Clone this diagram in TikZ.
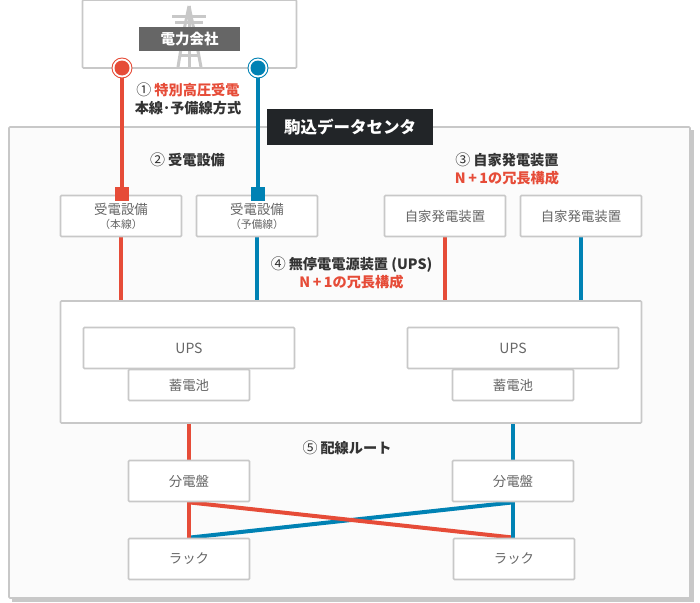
\documentclass[tikz,border=0pt]{standalone}
\usepackage{fontspec}
\setmainfont{Noto Sans CJK JP}
\definecolor{redline}{HTML}{E64C38}
\definecolor{blueline}{HTML}{0082B4}
\definecolor{boxgray}{HTML}{C8C8C8}
\definecolor{textgray}{HTML}{666666}
\definecolor{textdark}{HTML}{333333}
\definecolor{tagdark}{HTML}{222528}
\pgfdeclarelayer{back}
\pgfdeclarelayer{wire}
\pgfsetlayers{back,wire,main}
\newcommand{\cnum}[1]{{\mdseries\fontsize{15}{16}\selectfont #1}\hspace{3pt}}
\newcommand{\subtext}[1]{{\fontsize{10.8}{12}\selectfont #1}}
\newcommand{\nplus}{N\hspace{2.5pt}+\hspace{2.5pt}1}
\tikzset{
  unitbox/.style={draw=boxgray, line width=1.7pt, fill=white, rounded corners=1pt, text=textgray, font=\fontsize{13.4}{14}\selectfont, align=center, inner sep=0pt},
  smallbox/.style={unitbox, minimum width=121pt, minimum height=41pt},
  upsbox/.style={unitbox, minimum width=211pt, minimum height=41pt, font=\fontsize{14}{16}\selectfont},
  batbox/.style={unitbox, minimum width=121pt, minimum height=31pt},
  wirered/.style={draw=redline, line width=4pt},
  wireblue/.style={draw=blueline, line width=4pt},
  caption/.style={text=textdark, font=\fontsize{14.2}{17.5}\selectfont\bfseries, align=center, inner sep=0pt},
  ring/.style={circle, fill=white, line width=.9pt, minimum size=20pt, inner sep=0pt},
  dot/.style={circle, minimum size=15pt, inner sep=0pt},
  plug/.style={minimum size=14pt, inner sep=0pt},
  tower/.style={draw=boxgray, line width=3pt},
}
\begin{document}
\begin{tikzpicture}[x=1pt,y=-1pt]
\useasboundingbox (0,0) rectangle (700,602);
% data center
\begin{pgfonlayer}{back}
\fill[boxgray] (12,130) rectangle (694,602);
\node[draw=boxgray, line width=1.6pt, fill=black!1.5, minimum width=681pt, minimum height=471pt, inner sep=0pt, rounded corners=1pt] (center) at (349.5,362.5) {};
\end{pgfonlayer}
\node[fill=tagdark, text=white, minimum width=166pt, minimum height=36pt, inner sep=0pt, font=\fontsize{16.5}{18}\selectfont\bfseries] (tag) at (350,127) {駒込データセンタ};
% power company
\node[unitbox, minimum width=214pt, minimum height=68pt] (power) at (189.5,34) {};
\draw[tower] (189,6) -- (184,30) (189,6) -- (194,30) (184,30) -- (178,67) (194,30) -- (201,67);
\draw[tower] (172,17) -- (206,17) (175,23) -- (203,23);
\draw[tower] (189,6) -- (189,67) (181,55) -- (198,55);
\node[fill=textgray, text=white, minimum width=101pt, minimum height=24pt, inner sep=0pt, font=\fontsize{14.5}{16}\selectfont\bfseries] (powertag) at (189.5,39) {電力会社};
% receivers
\node[smallbox] (recv0) at (121,216) {受電設備\\\subtext{（本線）}};
\node[smallbox] (recv1) at (257,216) {受電設備\\\subtext{（予備線）}};
\node[smallbox] (gen0) at (445,216) {自家発電装置};
\node[smallbox] (gen1) at (581,216) {自家発電装置};
% ups
\node[unitbox, minimum width=581pt, minimum height=122pt] (upsall) at (351,362) {};
\node[upsbox] (ups0) at (189,348) {UPS};
\node[upsbox] (ups1) at (513,348) {UPS};
\node[batbox] (bat0) at (189,385) {蓄電池};
\node[batbox] (bat1) at (513,385) {蓄電池};
% panels and racks
\node[smallbox] (panel0) at (189,481) {分電盤};
\node[smallbox] (panel1) at (513,481) {分電盤};
\node[smallbox] (rack0) at (189,559) {ラック};
\node[smallbox] (rack1) at (514,559) {ラック};
% terminals
\node[ring, draw=redline] (term0) at (122,68) {};
\node[dot, fill=redline] (dot0) at (term0) {};
\node[ring, draw=blueline] (term1) at (258,68) {};
\node[dot, fill=blueline] (dot1) at (term1) {};
\node[plug, fill=redline] (plug0) at (122,194) {};
\node[plug, fill=blueline] (plug1) at (258,194) {};
% wires
\begin{pgfonlayer}{wire}
\draw[wirered] (term0) -- (plug0);
\draw[wireblue] (term1) -- (plug1);
\draw[wirered] (recv0.south) -- (recv0.south |- upsall.north);
\draw[wireblue] (recv1.south) -- (recv1.south |- upsall.north);
\draw[wirered] (gen0.south) -- (gen0.south |- upsall.north);
\draw[wireblue] (gen1.south) -- (gen1.south |- upsall.north);
\draw[wirered] (upsall.south -| panel0) -- (panel0.north);
\draw[wireblue] (upsall.south -| panel1) -- (panel1.north);
\draw[wireblue] (rack0.north) -- (panel1.south);
\draw[wirered] (panel0.south) -- (rack1.north);
\draw[wirered] (panel0.south) -- (rack0.north);
\draw[wireblue] (panel1.south) -- (rack1.north -| panel1);
\end{pgfonlayer}
% captions
\node[caption] (cap1) at (188,99) {\cnum{①}\textcolor{redline}{特別高圧受電}\\本線･予備線方式};
\node[caption] (cap2) at (187.5,160) {\cnum{②}受電設備};
\node[caption] (cap3) at (507,169) {\cnum{③}自家発電装置\\\textcolor{redline}{\nplus の冗長構成}};
\node[caption] (cap4) at (351.5,273) {\cnum{④}無停電電源装置 (UPS)\\\textcolor{redline}{\nplus の冗長構成}};
\node[caption] (cap5) at (347,448) {\cnum{⑤}配線ルート};
\end{tikzpicture}
\end{document}
